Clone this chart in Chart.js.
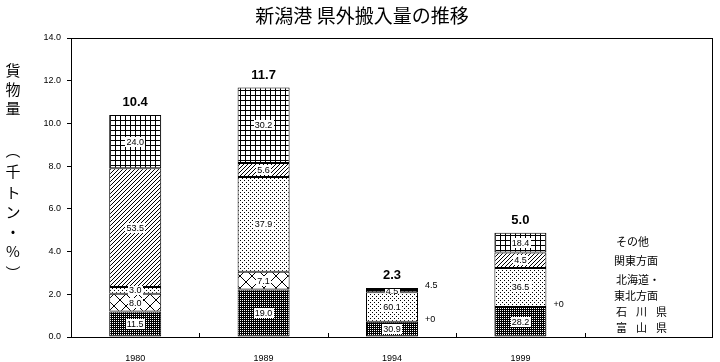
<!DOCTYPE html>
<html lang="ja">
<head>
  <meta charset="UTF-8">
  <title>新潟港 県外搬入量の推移</title>
  <script src="https://cdn.jsdelivr.net/npm/chart.js"></script>
  <style>
    body { margin: 0; background: #fff; }
    #wrap { width: 720px; height: 362px; }
  </style>
</head>
<body>
  <div id="wrap"><canvas id="chart" width="720" height="362"></canvas></div>
  <script>
    // data (percent of each year's total)
    var years = ['1980', '1989', '1994', '1999', ''];
    var totals = [10.4, 11.7, 2.3, 5.0];
    var toyama = [11.5, 19.0, 30.9, 28.2];
    var ishikawa = [8.0, 7.1, 0, 0];
    var tohoku = [3.0, 37.9, 60.1, 36.5];
    var kanto = [53.5, 5.6, 4.5, 14.5];
    var sonota = [24.0, 30.2, 4.5, 18.4];
    var kantoText = ['53.5', '5.6', '4.5', '4.5'];
    var yTicks = [0, 2, 4, 6, 8, 10, 12, 14];
    var legendText = ['その他', '関東方面', '北海道・', '東北方面', '石　川　県', '富　山　県'];

    var canvas = document.getElementById('chart');
    var ctx = canvas.getContext('2d');

    // small bitmap patterns like the old spreadsheet fills
    function makePattern(size, draw) {
      var c = document.createElement('canvas');
      c.width = size; c.height = size;
      var g = c.getContext('2d');
      g.fillStyle = '#fff';
      g.fillRect(0, 0, size, size);
      g.fillStyle = '#000';
      draw(g, size);
      return ctx.createPattern(c, 'repeat');
    }
    var patDense = makePattern(4, function(g) {
      g.fillRect(0, 0, 4, 4);
      g.fillStyle = '#fff';
      g.fillRect(0, 0, 1, 1); g.fillRect(2, 2, 1, 1);
      g.fillRect(2, 0, 1, 1); g.fillRect(0, 2, 1, 1);
    });
    var patCross = makePattern(12, function(g, s) {
      for (var i = 0; i < s; i++) { g.fillRect(i, i, 1, 1); g.fillRect(s - 1 - i, i, 1, 1); }
    });
    var patDots = makePattern(4, function(g) {
      g.fillRect(0, 0, 1, 1); g.fillRect(2, 2, 1, 1);
    });
    var patDiag = makePattern(4, function(g, s) {
      for (var i = 0; i < s; i++) g.fillRect(i, s - 1 - i, 1, 1);
    });
    var patGrid = makePattern(5, function(g) {
      g.fillRect(0, 0, 5, 1); g.fillRect(0, 0, 1, 5);
    });

    function toUnits(pct) {
      return pct.map(function(p, i) { return totals[i] * p / 100; });
    }

    var series = [
      { label: '富山県', pct: toyama, bg: patDense },
      { label: '石川県', pct: ishikawa, bg: patCross },
      { label: '北海道・東北方面', pct: tohoku, bg: patDots },
      { label: '関東方面', pct: kanto, bg: patDiag, text: kantoText },
      { label: 'その他', pct: sonota, bg: patGrid }
    ];

    var numFont = '9px "Liberation Sans", Arial, sans-serif';
    var jpFont = '"Noto Sans CJK JP", sans-serif';

    var decorPlugin = {
      id: 'decor',
      afterDraw: function(chart) {
        var c = chart.ctx;
        var a = chart.chartArea;
        c.save();
        // frame
        c.strokeStyle = '#000';
        c.lineWidth = 1;
        c.strokeRect(Math.round(a.left) + 0.5, Math.round(a.top) + 0.5,
          Math.round(a.right - a.left) - 1, Math.round(a.bottom - a.top));
        // x ticks between categories, pointing up
        var xs = chart.scales.x;
        for (var k = 1; k < years.length; k++) {
          var px = Math.round((xs.getPixelForValue(k - 1) + xs.getPixelForValue(k)) / 2) + 0.5;
          c.beginPath();
          c.moveTo(px, a.bottom);
          c.lineTo(px, a.bottom - 4);
          c.stroke();
        }
        // title
        c.fillStyle = '#000';
        c.textAlign = 'center';
        c.textBaseline = 'middle';
        c.font = '19px ' + jpFont;
        c.fillText('新潟港 県外搬入量の推移', 362, 16);
        // vertical y title
        c.font = '15px ' + jpFont;
        var yChars = [['貨', 70], ['物', 89], ['量', 108], ['︵', 150], ['千', 171], ['ト', 192],
          ['ン', 212], ['・', 232], ['%', 251], ['︶', 273]];
        yChars.forEach(function(ch) { c.fillText(ch[0], 13, ch[1]); });
        // legend text on the right
        c.font = '11px ' + jpFont;
        c.textAlign = 'left';
        var ly = [242, 261, 280, 296, 312, 328];
        var lx = [616, 614, 616, 614, 616, 616];
        legendText.forEach(function(t, i) {
          if (i >= 4) {
            c.font = '11px ' + jpFont;
            var chars = t.split('　');
            chars.forEach(function(ch, n) { c.fillText(ch, lx[i] + n * 20, ly[i]); });
          } else {
            c.fillText(t, lx[i], ly[i]);
          }
        });

        // segment labels
        c.font = numFont;
        var last = chart.data.datasets.length - 1;
        chart.data.datasets.forEach(function(ds, di) {
          var meta = chart.getDatasetMeta(di);
          var s = series[di];
          meta.data.forEach(function(bar, j) {
            if (j >= totals.length) return;
            var p = bar.getProps(['x', 'y', 'base', 'width'], true);
            var val = s.pct[j];
            var txt = s.text ? s.text[j] : val.toFixed(1);
            var right = p.x + p.width / 2 + 7;
            c.textAlign = 'left';
            c.fillStyle = '#000';
            if (val === 0) {
              c.fillText('+0', right, p.y - 2);
              return;
            }
            if (p.base - p.y < 4 && di === last) {
              c.fillText(txt, right, p.y - 2);
              return;
            }
            var cy = (p.y + p.base) / 2;
            var w = c.measureText(txt).width;
            var bh = Math.min(10, Math.max(4, p.base - p.y + 2));
            c.textAlign = 'center';
            c.fillStyle = '#fff';
            c.fillRect(Math.round(p.x - w / 2 - 1), Math.round(cy - bh / 2), Math.round(w + 2), Math.round(bh));
            c.fillStyle = '#000';
            c.fillText(txt, p.x, cy + 0.5);
          });
        });
        // totals on top
        c.font = 'bold 13px "Liberation Sans", Arial, sans-serif';
        c.textAlign = 'center';
        c.fillStyle = '#000';
        var topMeta = chart.getDatasetMeta(last);
        totals.forEach(function(t, j) {
          var p = topMeta.data[j].getProps(['x', 'y'], true);
          c.fillText(t.toFixed(1), p.x, p.y - 12);
        });
        c.restore();
      }
    };

    new Chart(ctx, {
      type: 'bar',
      data: {
        labels: years,
        datasets: series.map(function(s) {
          return {
            label: s.label,
            data: toUnits(s.pct),
            backgroundColor: s.bg,
            borderColor: '#000',
            borderWidth: 1,
            borderSkipped: false,
            categoryPercentage: 1.0,
            barPercentage: 0.405
          };
        })
      },
      options: {
        responsive: false,
        animation: false,
        devicePixelRatio: 1,
        layout: { padding: { top: 38, right: 7, left: 0, bottom: 0 } },
        plugins: {
          legend: { display: false },
          title: { display: false },
          tooltip: { enabled: false }
        },
        scales: {
          x: {
            stacked: true,
            grid: { display: false },
            border: { display: false },
            afterFit: function(scale) { scale.height = 25; },
            ticks: { color: '#000', font: { size: 9, family: 'Liberation Sans' }, padding: 8, maxRotation: 0 }
          },
          y: {
            stacked: true,
            min: 0,
            max: 14,
            afterFit: function(scale) { scale.width = 71; },
            afterBuildTicks: function(scale) {
              scale.ticks = yTicks.map(function(v) { return { value: v }; });
            },
            grid: { drawOnChartArea: false, tickLength: 4, color: '#000' },
            border: { display: false },
            ticks: {
              color: '#000',
              padding: 6,
              font: { size: 9, family: 'Liberation Sans' },
              callback: function(v) { return v.toFixed(1); }
            }
          }
        }
      },
      plugins: [decorPlugin]
    });
  </script>
</body>
</html>
